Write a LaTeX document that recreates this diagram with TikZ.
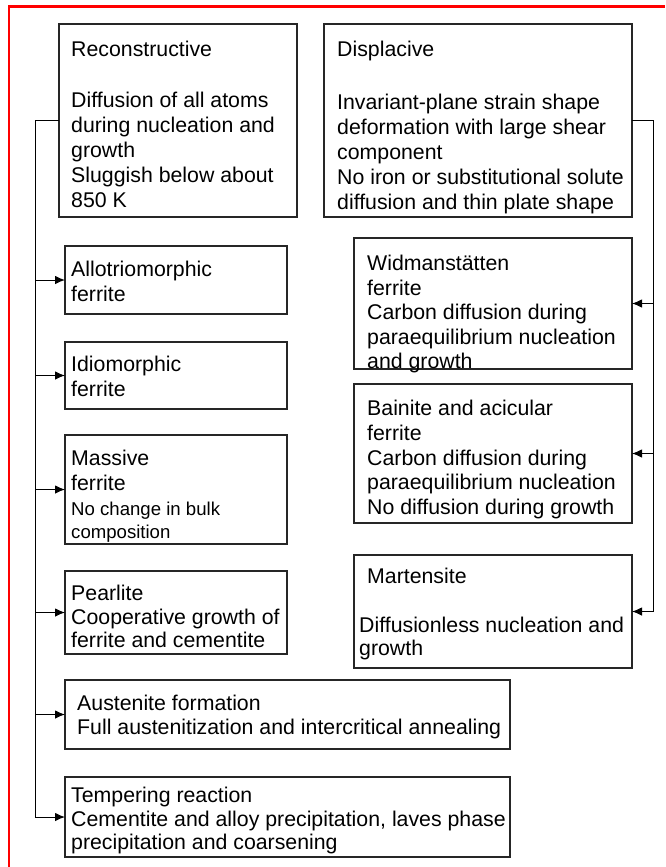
\documentclass[tikz,border=0pt]{standalone}
\usepackage{fontspec}
\setmainfont{Liberation Sans}
\usetikzlibrary{arrows.meta}
\begin{document}
\begin{tikzpicture}[x=1pt,y=-1pt,
  box/.style={draw=black!85, line width=1.2pt, inner sep=0pt, outer sep=0pt, anchor=north west},
  txt/.style={inner sep=0pt, anchor=north west, align=left, font=\fontsize{21.3}{25}\selectfont},
  small/.style={inner sep=0pt, anchor=north west, align=left, font=\fontsize{18.6}{22.5}\selectfont},
  conn/.style={draw=black, line width=1pt},
  arr/.style={conn, -{Latex[length=10pt,width=8.5pt]}}]
\useasboundingbox (0,0) rectangle (665,867);
% red frame
\draw[red, line width=2.5pt, line join=miter] (9,867) -- (9,6.5) -- (665,6.5);
% boxes
\node[box, minimum width=238pt, minimum height=193pt] (recon) at (59,24) {};
\node[box, minimum width=308pt, minimum height=193pt] (disp) at (324,24) {};
\node[box, minimum width=222pt, minimum height=68pt] (allo) at (65,246) {};
\node[box, minimum width=222pt, minimum height=67pt] (idio) at (65,342) {};
\node[box, minimum width=222pt, minimum height=109pt] (mass) at (65,435) {};
\node[box, minimum width=222pt, minimum height=83pt] (pear) at (65,571) {};
\node[box, minimum width=445pt, minimum height=69pt] (aust) at (65,680) {};
\node[box, minimum width=445pt, minimum height=80pt] (temp) at (65,777) {};
\node[box, minimum width=278pt, minimum height=131pt] (widm) at (354,238) {};
\node[box, minimum width=278pt, minimum height=139pt] (bain) at (354,384) {};
\node[box, minimum width=278pt, minimum height=113pt] (mart) at (354,555) {};
% texts
\node[txt] (recont) at (71,41) {Reconstructive\\[26pt]Diffusion of all atoms\\during nucleation and\\growth\\Sluggish below about\\850 K};
\node[txt] (dispt) at (337,41) {Displacive\\[28pt]Invariant-plane strain shape\\deformation with large shear\\component\\No iron or substitutional solute\\diffusion and thin plate shape};
\node[txt] (allot) at (71,261) {Allotriomorphic\\ferrite};
\node[txt] (idiot) at (71,356) {Idiomorphic\\ferrite};
\node[txt] (masst) at (71,450) {Massive\\ferrite};
\node[small] (masss) at (71,502) {No change in bulk\\composition};
\node[txt, font=\fontsize{21.3}{23.5}\selectfont] (peart) at (71,585) {Pearlite\\Cooperative growth of\\ferrite and cementite};
\node[txt, font=\fontsize{21.3}{24}\selectfont] (austt) at (77,695) {Austenite formation\\Full austenitization and intercritical annealing};
\node[txt, font=\fontsize{21.3}{23.5}\selectfont] (tempt) at (71,787) {Tempering reaction\\Cementite and alloy precipitation, laves phase\\precipitation and coarsening};
\node[txt, font=\fontsize{21.3}{24.5}\selectfont] (widmt) at (367,255) {Widmanstätten\\ferrite\\Carbon diffusion during\\paraequilibrium nucleation\\and growth};
\node[txt, font=\fontsize{21.3}{24.75}\selectfont] (baint) at (367,400) {Bainite and acicular\\ferrite\\Carbon diffusion during\\paraequilibrium nucleation\\No diffusion during growth};
\node[txt, font=\fontsize{21.3}{23}\selectfont] (martt) at (359,568) {\hspace*{8pt}Martensite\\[26pt]Diffusionless nucleation and\\growth};
% trunks
\coordinate (ltr) at (35,0);
\coordinate (rtr) at (653,0);
\draw[conn] (recon.west) -| (ltr |- temp.west);
\draw[arr] (ltr |- temp.west) -- (temp.west);
\draw[arr] (ltr |- allo.west) -- (allo.west);
\draw[arr] (ltr |- idio.west) -- (idio.west);
\draw[arr] (ltr |- mass.west) -- (mass.west);
\draw[arr] (ltr |- pear.west) -- (pear.west);
\draw[arr] (ltr |- aust.west) -- (aust.west);
\draw[conn] (disp.east) -| (rtr |- mart.east);
\draw[arr] (rtr |- mart.east) -- (mart.east);
\draw[arr] (rtr |- widm.east) -- (widm.east);
\draw[arr] (rtr |- bain.east) -- (bain.east);
\end{tikzpicture}
\end{document}
